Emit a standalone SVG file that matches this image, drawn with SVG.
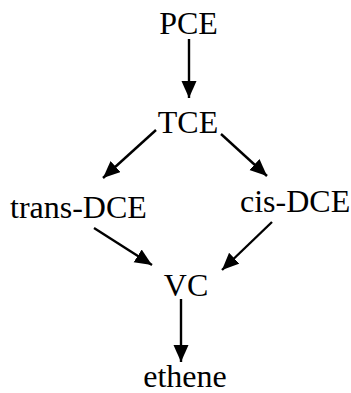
<svg xmlns="http://www.w3.org/2000/svg" width="351" height="393" viewBox="0 0 351 393">
  <style>
    .lbl { font-family: "Liberation Serif", "Times New Roman", serif; font-size: 32px; fill: #000; }
    .edge { stroke: #000; stroke-width: 2.4; fill: none; marker-end: url(#head); }
  </style>
  <defs>
    <marker id="head" markerUnits="userSpaceOnUse" markerWidth="18" markerHeight="16" refX="17" refY="7.5" orient="auto">
      <path d="M0,0 L17,7.5 L0,15 Z" fill="#000"/>
    </marker>
  </defs>
  <rect width="351" height="393" fill="#fff"/>

  <!-- reductive dechlorination steps -->
  <g id="connectors">
    <line class="edge" x1="189" y1="39" x2="189" y2="98"/>
    <line class="edge" x1="156" y1="130" x2="103" y2="178"/>
    <line class="edge" x1="221" y1="134" x2="267" y2="176"/>
    <line class="edge" x1="94" y1="228" x2="152" y2="265"/>
    <line class="edge" x1="272" y1="222" x2="222" y2="270"/>
    <line class="edge" x1="181" y1="299" x2="181" y2="362"/>
  </g>

  <g id="PCE"><text class="lbl" x="188.5" y="34" text-anchor="middle">PCE</text></g>
  <g id="TCE"><text class="lbl" x="188" y="133" text-anchor="middle">TCE</text></g>
  <g id="trans-DCE"><text class="lbl" x="10" y="218">trans-DCE</text></g>
  <g id="cis-DCE"><text class="lbl" x="240" y="212">cis-DCE</text></g>
  <g id="VC"><text class="lbl" x="186" y="296" text-anchor="middle">VC</text></g>
  <g id="ethene"><text class="lbl" x="185" y="387" text-anchor="middle">ethene</text></g>
</svg>
